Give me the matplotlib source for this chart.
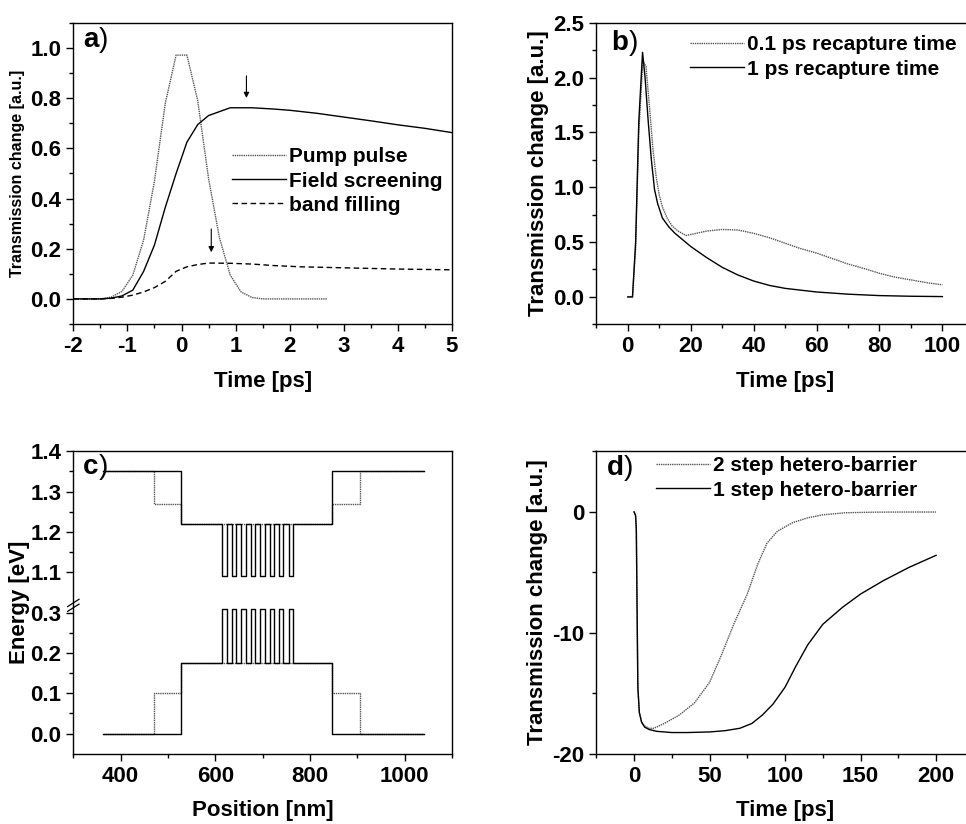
import numpy as np
import matplotlib
matplotlib.use("Agg")
import matplotlib.pyplot as plt
from matplotlib.ticker import MultipleLocator, FixedLocator, FormatStrFormatter

plt.rcParams['font.family'] = ['Liberation Sans', 'DejaVu Sans']
plt.rcParams['font.weight'] = 'bold'
plt.rcParams['axes.labelweight'] = 'bold'
plt.rcParams['axes.linewidth'] = 1.0
plt.rcParams['axes.unicode_minus'] = False
plt.rcParams['xtick.direction'] = 'out'
plt.rcParams['ytick.direction'] = 'out'

# ---- panel a: pump pulse / field screening / band filling
pump_t = [-2.0, -1.5, -1.3, -1.1, -0.9, -0.7, -0.5, -0.3, -0.1, 0.1, 0.3, 0.5, 0.7, 0.9, 1.1, 1.3, 1.5, 2.0, 2.7]
pump_v = [0, 0, 0.007, 0.03, 0.095, 0.235, 0.47, 0.78, 0.972, 0.972, 0.79, 0.48, 0.245, 0.095, 0.028, 0.006, 0, 0, 0]
field_t = [-2.0, -1.5, -1.3, -1.1, -0.9, -0.7, -0.5, -0.3, -0.1, 0.1, 0.3, 0.5, 0.9, 1.3, 1.7, 2.0, 2.5, 3.0, 3.5, 4.0, 4.5, 5.0]
field_v = [0, 0, 0.003, 0.012, 0.035, 0.11, 0.215, 0.365, 0.5, 0.625, 0.695, 0.731, 0.762, 0.762, 0.757, 0.752, 0.74, 0.725, 0.71, 0.694, 0.68, 0.663]
band_t = [-2.0, -1.5, -1.3, -1.1, -0.9, -0.7, -0.5, -0.3, -0.1, 0.1, 0.3, 0.5, 0.9, 1.3, 1.7, 2.2, 3.0, 4.0, 5.0]
band_v = [0, 0, 0.002, 0.007, 0.015, 0.028, 0.045, 0.07, 0.11, 0.128, 0.137, 0.143, 0.142, 0.139, 0.133, 0.128, 0.124, 0.119, 0.116]

# ---- panel b: recapture time
rec01_t = [0, 1.5, 2.5, 3.5, 4.8, 5.8, 7, 8, 9, 10, 11, 12.5, 14, 16, 18.5, 21, 25, 30, 35, 40, 45, 50, 55, 60, 65, 70, 75, 80, 85, 90, 95, 100]
rec01_v = [0, 0, 0.45, 1.5, 2.15, 2.1, 1.7, 1.35, 1.1, 0.93, 0.82, 0.72, 0.65, 0.6, 0.56, 0.575, 0.6, 0.615, 0.61, 0.58, 0.54, 0.49, 0.44, 0.40, 0.35, 0.30, 0.26, 0.215, 0.18, 0.155, 0.13, 0.11]
rec1_t = [0, 1.5, 2.5, 3.5, 4.7, 5.5, 6.5, 7.5, 8.5, 9.5, 11, 13, 15, 17.5, 20, 25, 30, 35, 40, 45, 50, 60, 70, 80, 90, 100]
rec1_v = [0, 0, 0.5, 1.6, 2.23, 2.0, 1.6, 1.25, 0.98, 0.85, 0.72, 0.64, 0.58, 0.52, 0.46, 0.36, 0.27, 0.2, 0.145, 0.105, 0.078, 0.045, 0.025, 0.012, 0.006, 0.003]

# ---- panel c: band profiles (step edges in nm, levels in eV)
cb1_x = [362, 527, 615, 624, 635, 644, 655, 664, 675, 684, 695, 704, 715, 724, 735, 744, 755, 764, 847, 1040]
cb1_e = [1.35, 1.22, 1.09, 1.22, 1.09, 1.22, 1.09, 1.22, 1.09, 1.22, 1.09, 1.22, 1.09, 1.22, 1.09, 1.22, 1.09, 1.22, 1.35, 1.35]
cb2_x = [362, 470, 527, 847, 906, 1040]
cb2_e = [1.35, 1.27, 1.22, 1.27, 1.35, 1.35]
vb1_x = [362, 527, 615, 624, 635, 644, 655, 664, 675, 684, 695, 704, 715, 724, 735, 744, 755, 764, 847, 1040]
vb1_e = [0.0, 0.175, 0.31, 0.175, 0.31, 0.175, 0.31, 0.175, 0.31, 0.175, 0.31, 0.175, 0.31, 0.175, 0.31, 0.175, 0.31, 0.175, 0.0, 0.0]
vb2_x = [362, 470, 527, 847, 906, 1040]
vb2_e = [0.0, 0.1, 0.175, 0.1, 0.0, 0.0]

# ---- panel d: hetero-barrier
hb2_t = [0, 1, 1.5, 2, 2.5, 3.5, 5, 7, 10, 13, 20, 30, 40, 50, 58, 66, 75, 82, 88, 95, 105, 115, 125, 140, 160, 180, 200]
hb2_v = [0, -0.3, -1.5, -8, -14.5, -16.6, -17.4, -17.7, -17.9, -17.9, -17.5, -16.8, -15.8, -14.1, -11.8, -9.3, -6.8, -4.3, -2.6, -1.6, -0.9, -0.5, -0.25, -0.08, -0.03, -0.02, -0.02]
hb1_t = [0, 1, 1.5, 2, 2.5, 3.5, 5, 7, 10, 15, 25, 35, 50, 60, 70, 78, 85, 92, 100, 107, 115, 125, 138, 150, 165, 182, 200]
hb1_v = [0, -0.3, -1.5, -8, -14.5, -16.6, -17.4, -17.8, -18.0, -18.15, -18.25, -18.25, -18.2, -18.1, -17.9, -17.5, -16.8, -15.9, -14.5, -12.8, -11.0, -9.3, -7.9, -6.8, -5.7, -4.6, -3.6]

FS = 16
LFS = 15
dot = dict(color='#555555', lw=1.0, ls=(0, (1, 0.6)))
sol = dict(color='black', lw=1.0)


def style(ax):
    ax.tick_params(which='major', length=5, width=1.0, labelsize=FS, top=False, right=False)
    ax.tick_params(which='minor', length=3, width=1.0, top=False, right=False)
    for lab in ax.get_xticklabels() + ax.get_yticklabels():
        lab.set_fontweight('bold')


def panel_label(ax, letter, x, y):
    t = ax.text(x, y, letter, transform=ax.transAxes, fontsize=20, fontweight='bold', va='baseline')
    ax.annotate(')', xy=(1, 0), xycoords=t, fontsize=20, fontweight='normal', va='bottom', ha='left')


def legend(ax, x, y):
    leg = ax.legend(loc='upper left', bbox_to_anchor=(x, y), frameon=False, fontsize=LFS,
                    handlelength=2.6, handletextpad=0.15, labelspacing=0.25,
                    borderpad=0, borderaxespad=0)
    for txt in leg.get_texts():
        txt.set_fontweight('bold')


fig = plt.figure(figsize=(9.66, 8.24), dpi=100)
ax1 = fig.add_axes([0.0759, 0.6068, 0.392, 0.3653])
ax2 = fig.add_axes([0.6173, 0.6064, 0.3908, 0.366])
ax3 = fig.add_axes([0.0759, 0.0853, 0.392, 0.367])
ax4 = fig.add_axes([0.6173, 0.0853, 0.3908, 0.367])

# a)
ax1.plot(pump_t, pump_v, label='Pump pulse', **dot)
ax1.plot(field_t, field_v, label='Field screening', **sol)
ax1.plot(band_t, band_v, label='band filling', color='black', lw=1.0, ls=(0, (4, 2.5)))
ax1.set_xlim(-2, 5)
ax1.set_ylim(-0.1, 1.1)
ax1.xaxis.set_major_locator(MultipleLocator(1))
ax1.xaxis.set_minor_locator(MultipleLocator(0.5))
ax1.yaxis.set_major_locator(MultipleLocator(0.2))
ax1.yaxis.set_minor_locator(MultipleLocator(0.1))
ax1.yaxis.set_major_formatter(FormatStrFormatter('%.1f'))
ax1.set_xlabel('Time [ps]', fontsize=FS, labelpad=10)
ax1.set_ylabel('Transmission change [a.u.]', fontsize=11.5, labelpad=4)
ax1.annotate('', xy=(1.2, 0.79), xytext=(1.2, 0.9),
             arrowprops=dict(arrowstyle='-|>', color='black', lw=0.8, mutation_scale=8))
ax1.annotate('', xy=(0.55, 0.175), xytext=(0.55, 0.29),
             arrowprops=dict(arrowstyle='-|>', color='black', lw=0.8, mutation_scale=8))
legend(ax1, 0.419, 0.587)
panel_label(ax1, 'a', 0.026, 0.921)
style(ax1)

# b)
ax2.plot(rec01_t, rec01_v, label='0.1 ps recapture time', **dot)
ax2.plot(rec1_t, rec1_v, label='1 ps recapture time', **sol)
ax2.set_xlim(-10, 110)
ax2.set_ylim(-0.25, 2.5)
ax2.xaxis.set_major_locator(MultipleLocator(20))
ax2.xaxis.set_minor_locator(MultipleLocator(10))
ax2.yaxis.set_major_locator(MultipleLocator(0.5))
ax2.yaxis.set_minor_locator(MultipleLocator(0.25))
ax2.yaxis.set_major_formatter(FormatStrFormatter('%.1f'))
ax2.set_xlabel('Time [ps]', fontsize=FS, labelpad=10)
ax2.set_ylabel('Transmission change [a.u.]', fontsize=FS, labelpad=3)
legend(ax2, 0.248, 0.958)
panel_label(ax2, 'b', 0.04, 0.909)
style(ax2)


# c) broken energy axis: 1.0 eV and above shifted down by 0.7
def fwd(y):
    y = np.asarray(y, dtype=float)
    return np.where(y > 0.65, y - 0.7, y)


def inv(y):
    y = np.asarray(y, dtype=float)
    return np.where(y > 0.35, y + 0.7, y)


ax3.set_yscale('function', functions=(fwd, inv))
ax3.plot(cb2_x, cb2_e, drawstyle='steps-post', **dot)
ax3.plot(vb2_x, vb2_e, drawstyle='steps-post', **dot)
ax3.plot(cb1_x, cb1_e, drawstyle='steps-post', **sol)
ax3.plot(vb1_x, vb1_e, drawstyle='steps-post', **sol)
ax3.set_xlim(300, 1100)
ax3.set_ylim(-0.05, 1.4)
ax3.xaxis.set_major_locator(MultipleLocator(200))
ax3.xaxis.set_minor_locator(MultipleLocator(100))
ax3.yaxis.set_major_locator(FixedLocator([0.0, 0.1, 0.2, 0.3, 1.1, 1.2, 1.3, 1.4]))
ax3.yaxis.set_minor_locator(FixedLocator([0.05, 0.15, 0.25, 1.15, 1.25, 1.35]))
ax3.yaxis.set_major_formatter(FormatStrFormatter('%.1f'))
ax3.set_xlabel('Position [nm]', fontsize=FS, labelpad=10)
ax3.set_ylabel('Energy [eV]', fontsize=FS, labelpad=0.5)
yb = (0.318 + 0.05) / 0.75
for dy in (-0.008, 0.008):
    ax3.plot([-0.015, 0.015], [yb + dy - 0.012, yb + dy + 0.012], color='black', lw=0.9,
             transform=ax3.transAxes, clip_on=False)
panel_label(ax3, 'c', 0.025, 0.926)
style(ax3)

# d)
ax4.plot(hb2_t, hb2_v, label='2 step hetero-barrier', **dot)
ax4.plot(hb1_t, hb1_v, label='1 step hetero-barrier', **sol)
ax4.set_xlim(-25, 225)
ax4.set_ylim(-20, 5)
ax4.xaxis.set_major_locator(MultipleLocator(50))
ax4.xaxis.set_minor_locator(MultipleLocator(25))
ax4.yaxis.set_major_locator(MultipleLocator(10))
ax4.yaxis.set_minor_locator(MultipleLocator(5))
ax4.set_xlabel('Time [ps]', fontsize=FS, labelpad=10)
ax4.set_ylabel('Transmission change [a.u.]', fontsize=FS, labelpad=3)
legend(ax4, 0.158, 0.983)
panel_label(ax4, 'd', 0.028, 0.92)
style(ax4)

fig.savefig('out.png', dpi=100)
